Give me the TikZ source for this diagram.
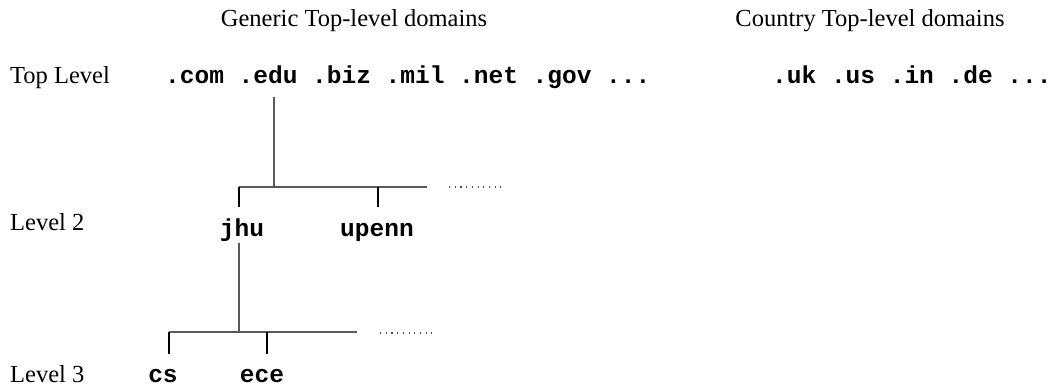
\documentclass[tikz,border=0pt]{standalone}
\usepackage{fontspec}
\setmainfont{Liberation Serif}
\setmonofont{Liberation Mono}
\begin{document}
\begin{tikzpicture}[x=1pt,y=-1pt,
  lbl/.style={inner sep=0pt,anchor=base west,font=\fontsize{24.5}{29}\selectfont},
  ttl/.style={inner sep=0pt,anchor=base,font=\fontsize{24.5}{29}\selectfont},
  dom/.style={inner sep=0pt,anchor=base west,font=\fontsize{24.5}{29}\selectfont\ttfamily\bfseries},
  leaf/.style={inner sep=0pt,anchor=base,font=\fontsize{24.5}{29}\selectfont\ttfamily\bfseries},
  branch/.style={draw=black!65,line width=1.4pt},
  tick/.style={draw=black,line width=1.4pt},
  more/.style={draw=black!70,line width=1.1pt,dash pattern=on 1.1pt off 4.6pt}]
\useasboundingbox (0,0) rectangle (1050,388);
% titles
\node[ttl] (gen) at (354,27) {Generic Top-level domains};
\node[ttl] (cty) at (870,27) {Country Top-level domains};
% level labels
\node[lbl] (lt) at (10,83) {Top Level};
\node[lbl] (l2) at (10,230) {Level 2};
\node[lbl] (l3) at (10,382) {Level 3};
% top-level domains
\node[dom] (com) at (165,83) {.com};
\node[dom] (edu) at (238.5,83) {.edu};
\node[dom] (biz) at (312,83) {.biz};
\node[dom] (mil) at (385.5,83) {.mil};
\node[dom] (net) at (459,83) {.net};
\node[dom] (gov) at (532.5,83) {.gov};
\node[dom] (gdots) at (606,83) {...};
\node[dom] (uk) at (772,83) {.uk};
\node[dom] (us) at (830.8,83) {.us};
\node[dom] (in) at (889.6,83) {.in};
\node[dom] (de) at (948.4,83) {.de};
\node[dom] (cdots) at (1007.2,83) {...};
% level 2
\node[leaf] (jhu) at (242,236) {jhu};
\node[leaf] (upenn) at (377,236) {upenn};
% level 3
\node[leaf] (cs) at (163,382) {cs};
\node[leaf] (ece) at (262,382) {ece};
% tree coordinates
\coordinate (eduT) at (274,97);
\coordinate (j1) at (274,187);
\coordinate (b1L) at (239,187);
\coordinate (b1R) at (427,187);
\coordinate (t1a) at (239,207);
\coordinate (t1b) at (378,207);
\coordinate (b1u) at (378,187);
\coordinate (d1L) at (449,187);
\coordinate (d1R) at (501,187);
\coordinate (jhuB) at (239,243);
\coordinate (j2) at (239,332);
\coordinate (b2L) at (169,332);
\coordinate (b2R) at (357,332);
\coordinate (b2e) at (267,332);
\coordinate (t2a) at (169,354);
\coordinate (t2b) at (267,354);
\coordinate (d2L) at (380,333);
\coordinate (d2R) at (432,333);
% connectors
\draw[branch] (eduT) -- (j1);
\draw[branch] (b1L) -- (b1R);
\draw[tick] (b1L) -- (t1a);
\draw[tick] (b1u) -- (t1b);
\draw[more] (d1L) -- (d1R);
\draw[branch] (jhuB) -- (j2);
\draw[branch] (b2L) -- (b2R);
\draw[tick] (b2L) -- (t2a);
\draw[tick] (b2e) -- (t2b);
\draw[more] (d2L) -- (d2R);
\end{tikzpicture}
\end{document}
